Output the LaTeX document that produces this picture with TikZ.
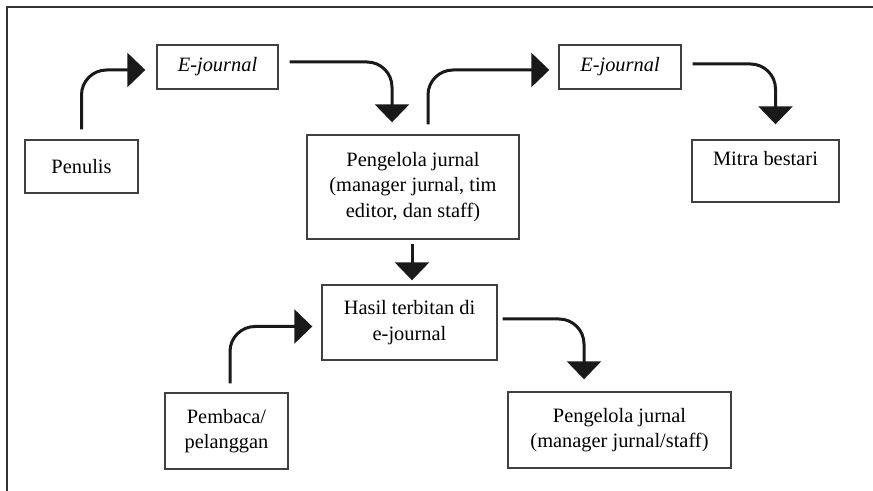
\documentclass[tikz,border=0pt]{standalone}
\usepackage{fontspec}
\setmainfont{Liberation Serif}
\usetikzlibrary{arrows.meta,calc}

\begin{document}
\begin{tikzpicture}[
        x=0.5pt, y=-0.5pt,
        box/.style={rectangle, draw=black!75, line width=0.7pt, align=center, inner sep=0pt, font=\fontsize{10.2}{12.8}\selectfont},
        flow/.style={draw=black!90, line width=1.5pt, rounded corners=12.5pt, -{Triangle[length=9pt, width=17pt]}}
    ]
        \useasboundingbox (0,0) rectangle (873,491);

        % Frame
        \draw[black!80, line width=1.3pt] (7,491) -- (7,7) -- (873,7);

        % Nodes
        \node[box, minimum width=56.5pt, minimum height=26.5pt] (penulis) at (81.5,166.5) {Penulis};
        \node[box, minimum width=60.5pt, minimum height=22pt] (ejournal1) at (217.5,67) {\textit{E-journal}};
        \node[box, minimum width=106pt, minimum height=52pt] (pengelola) at (413,187) {Pengelola jurnal\\(manager jurnal, tim\\editor, dan staff)};
        \node[box, minimum width=61pt, minimum height=22pt] (ejournal2) at (620,67) {\textit{E-journal}};
        \node[box, minimum width=73.5pt, minimum height=31pt] (mitra) at (765.5,171) {Mitra bestari\\~};
        \node[box, minimum width=87.5pt, minimum height=37.5pt] (hasil) at (409.5,322.5) {Hasil terbitan di\\e-journal};
        \node[box, minimum width=61.5pt, minimum height=38pt] (pembaca) at (226.5,431) {Pembaca/\\pelanggan};
        \node[box, minimum width=111.5pt, minimum height=38pt] (pengelola2) at (619.5,430) {Pengelola jurnal\\(manager jurnal/staff)};

        % Connectors
        \draw[flow] ($(penulis.north)+(0,-10)$) |- ($(ejournal1.west)+(-11,3)$);
        \draw[flow] ($(ejournal1.east)+(11,-5)$) -| ($(pengelola.north)+(-21,-12)$);
        \draw[flow] ($(pengelola.north)+(15,-10)$) |- ($(ejournal2.west)+(-9,3)$);
        \draw[flow] ($(ejournal2.east)+(11,-3)$) -| ($(mitra.north)+(10,-15)$);
        \draw[flow] ($(pengelola.south)+(-1,4)$) -- ($(hasil.north)+(2.5,-4)$);
        \draw[flow] ($(pembaca.north)+(3.5,-9)$) |- ($(hasil.west)+(-9,4)$);
        \draw[flow] ($(hasil.east)+(5,-3.5)$) -| ($(pengelola2.north)+(-35.5,-12)$);

    \end{tikzpicture}
\end{document}
